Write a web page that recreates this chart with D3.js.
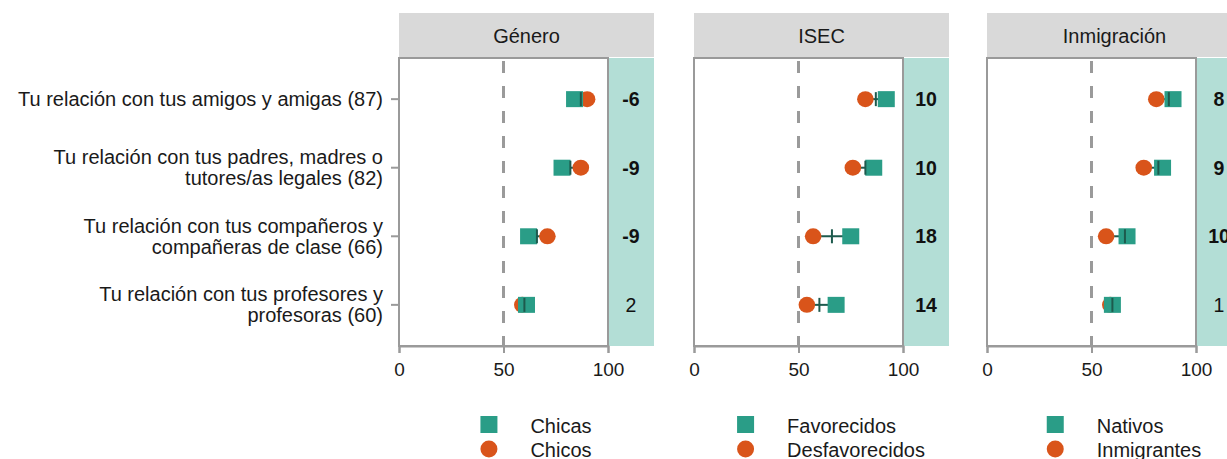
<!DOCTYPE html>
<html>
<head>
<meta charset="utf-8">
<script src="https://cdn.jsdelivr.net/npm/d3@7"></script>
<style>
  html, body { margin: 0; padding: 0; background: #fff; }
  svg { display: block; font-family: "Liberation Sans", Arial, sans-serif; }
</style>
</head>
<body>
<svg id="chart" width="1227" height="459"></svg>
<script>
// ---------- DATA ----------
const categories = [
  "Tu relación con tus amigos y amigas (87)",
  "Tu relación con tus padres, madres o\ntutores/as legales (82)",
  "Tu relación con tus compañeros y\ncompañeras de clase (66)",
  "Tu relación con tus profesores y\nprofesoras (60)"
];
const overall = [87, 82, 66, 60];
const panelTitles = ["Género", "ISEC", "Inmigración"];
const seriesANames = ["Chicas", "Favorecidos", "Nativos"];
const seriesBNames = ["Chicos", "Desfavorecidos", "Inmigrantes"];

const generoChicas = [84, 78, 62, 61];
const generoChicos = [90, 87, 71, 59];
const generoDiff = ["-6", "-9", "-9", "2"];
const generoSig = [true, true, true, false];

const isecFavorecidos = [92, 86, 75, 68];
const isecDesfavorecidos = [82, 76, 57, 54];
const isecDiff = ["10", "10", "18", "14"];
const isecSig = [true, true, true, true];

const inmNativos = [89, 84, 67, 60];
const inmInmigrantes = [81, 75, 57, 59];
const inmDiff = ["8", "9", "10", "1"];
const inmSig = [true, true, true, false];

const xTicks = [0, 50, 100];
const refLine = 50;

// ---------- STYLE / LAYOUT ----------
const colA = "#2a9d87";
const colB = "#d9541a";
const colSeg = "#1d5a4d";
const bandCol = "#b3ded6";
const gridGray = "#9a9a9a";
const textCol = "#1a1a1a";

const panelX0 = [399, 694, 987];
const plotW = 209;
const bandW = 46;
const plotTop = 58, plotBottom = 346;
const stripTop = 13, stripBottom = 57;

const panels = [
  { a: generoChicas, b: generoChicos, diff: generoDiff, sig: generoSig },
  { a: isecFavorecidos, b: isecDesfavorecidos, diff: isecDiff, sig: isecSig },
  { a: inmNativos, b: inmInmigrantes, diff: inmDiff, sig: inmSig }
];

const svg = d3.select("#chart");
svg.append("rect").attr("width", 1227).attr("height", 459).attr("fill", "#fff");

const y = d3.scalePoint().domain(categories).range([plotTop, plotBottom]).padding(0.6);

// Y axis labels (left panel only)
const yLab = svg.append("g");
categories.forEach(c => {
  const lines = c.split("\n");
  const cy = y(c);
  const lh = 21;
  const t = yLab.append("text")
    .attr("text-anchor", "end")
    .attr("font-size", 20)
    .attr("fill", textCol);
  lines.forEach((ln, i) => {
    t.append("tspan")
      .attr("x", 383)
      .attr("y", cy + 7 - (lines.length - 1) * lh / 2 + i * lh)
      .text(ln);
  });
  yLab.append("line")
    .attr("x1", 391).attr("x2", 399)
    .attr("y1", cy).attr("y2", cy)
    .attr("stroke", gridGray).attr("stroke-width", 2);
});

panels.forEach((p, pi) => {
  const x0 = panelX0[pi];
  const x = d3.scaleLinear().domain([0, 100]).range([x0, x0 + plotW]);
  const g = svg.append("g");

  // strip
  g.append("rect")
    .attr("x", x0).attr("y", stripTop)
    .attr("width", plotW + bandW).attr("height", stripBottom - stripTop)
    .attr("fill", "#d9d9d9");
  g.append("text")
    .attr("x", x0 + (plotW + bandW) / 2).attr("y", 43)
    .attr("text-anchor", "middle").attr("font-size", 20).attr("fill", textCol)
    .text(panelTitles[pi]);

  // band
  g.append("rect")
    .attr("x", x(100)).attr("y", plotTop)
    .attr("width", bandW).attr("height", plotBottom - plotTop)
    .attr("fill", bandCol);

  // panel border
  g.append("rect")
    .attr("x", x(0)).attr("y", plotTop)
    .attr("width", x(100) - x(0)).attr("height", plotBottom - plotTop)
    .attr("fill", "none").attr("stroke", gridGray).attr("stroke-width", 2);

  // reference dashed line
  g.append("line")
    .attr("x1", x(refLine)).attr("x2", x(refLine))
    .attr("y1", plotTop + 3).attr("y2", plotBottom)
    .attr("stroke", gridGray).attr("stroke-width", 3)
    .attr("stroke-dasharray", "12,13");

  // x axis
  const ax = g.append("g").attr("transform", `translate(0,${plotBottom})`)
    .call(d3.axisBottom(x).tickValues(xTicks).tickSize(7).tickPadding(10).tickFormat(d3.format("d")));
  ax.select(".domain").attr("stroke", gridGray).attr("stroke-width", 2);
  ax.selectAll(".tick line").attr("stroke", gridGray).attr("stroke-width", 2);
  ax.selectAll(".tick text")
    .style("font-size", "19px").attr("fill", textCol)
    .style("font-family", "'Liberation Sans', Arial, sans-serif").attr("dy", "0.71em");

  // marks
  categories.forEach((c, i) => {
    const cy = y(c);
    const xa = x(p.a[i]), xb = x(p.b[i]), xo = x(overall[i]);
    g.append("line")
      .attr("x1", Math.min(xa, xb)).attr("x2", Math.max(xa, xb))
      .attr("y1", cy).attr("y2", cy)
      .attr("stroke", colSeg).attr("stroke-width", 2);
    g.append("ellipse")
      .attr("cx", xb).attr("cy", cy).attr("rx", 8.3).attr("ry", 8)
      .attr("fill", colB);
    g.append("rect")
      .attr("x", xa - 8.5).attr("y", cy - 8)
      .attr("width", 17).attr("height", 16)
      .attr("fill", colA);
    g.append("line")
      .attr("x1", xo).attr("x2", xo)
      .attr("y1", cy - 7).attr("y2", cy + 7)
      .attr("stroke", colSeg).attr("stroke-width", 2);
    g.append("text")
      .attr("x", x(100) + bandW / 2).attr("y", cy + 7)
      .attr("text-anchor", "middle").attr("font-size", 19.5)
      .attr("font-weight", p.sig[i] ? "bold" : "normal")
      .attr("fill", "#111")
      .text(p.diff[i]);
  });

  // legend
  const lg = g.append("g");
  const tA = lg.append("text").attr("font-size", 20).attr("fill", textCol).text(seriesANames[pi]);
  const tB = lg.append("text").attr("font-size", 20).attr("fill", textCol).text(seriesBNames[pi]);
  const tw = Math.max(tA.node().getComputedTextLength(), tB.node().getComputedTextLength());
  const total = 50 + tw;
  const center = x0 + (plotW + bandW) / 2 + 9.5;
  const left = center - total / 2;
  lg.append("rect").attr("x", left).attr("y", 416).attr("width", 17).attr("height", 17).attr("fill", colA);
  lg.append("circle").attr("cx", left + 8.5).attr("cy", 449).attr("r", 8.5).attr("fill", colB);
  tA.attr("x", left + 50).attr("y", 433);
  tB.attr("x", left + 50).attr("y", 457);
});
</script>
</body>
</html>
